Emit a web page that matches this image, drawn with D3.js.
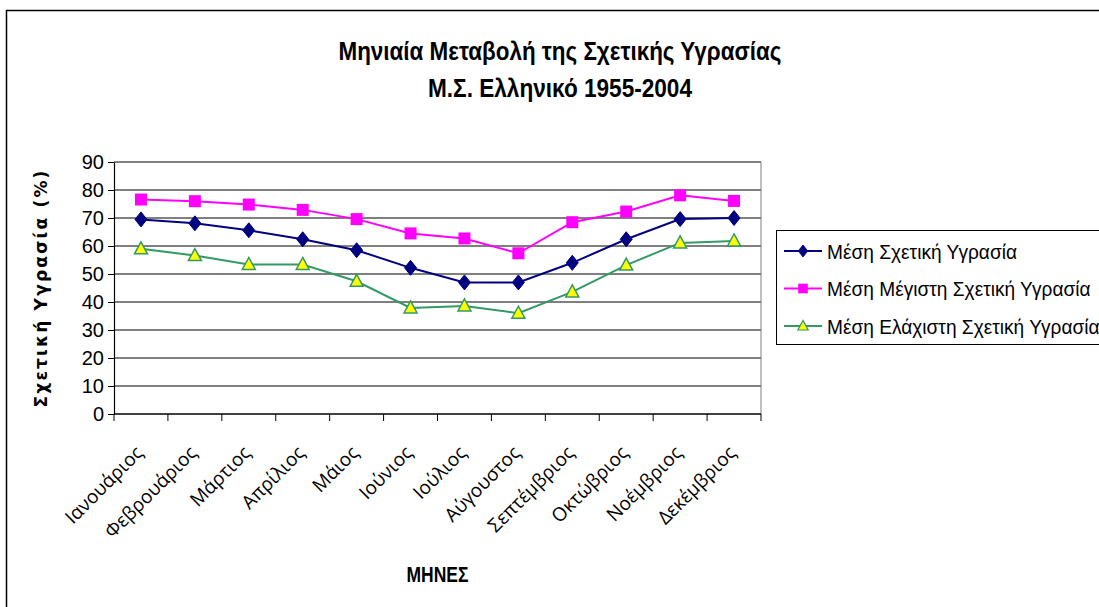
<!DOCTYPE html>
<html>
<head>
<meta charset="utf-8">
<script src="https://cdn.jsdelivr.net/npm/d3@7"></script>
<style>
  body { margin: 0; background: #fff; }
  svg { display: block; }
  text { font-family: "Liberation Sans", Arial, sans-serif; }
</style>
</head>
<body>
<div id="chart"></div>
<script>
var months = ["Ιανουάριος", "Φεβρουάριος", "Μάρτιος", "Απρίλιος", "Μάιος", "Ιούνιος",
    "Ιούλιος", "Αύγουστος", "Σεπτέμβριος", "Οκτώβριος", "Νοέμβριος", "Δεκέμβριος"];
var meanRH = [69.5, 68.1, 65.6, 62.4, 58.5, 52.2, 47.0, 47.0, 54.0, 62.4, 69.6, 70.0];
var maxRH  = [76.6, 76.0, 74.8, 72.9, 69.6, 64.5, 62.7, 57.4, 68.5, 72.3, 78.1, 76.1];
var minRH  = [59.0, 56.6, 53.4, 53.4, 47.4, 37.9, 38.6, 36.0, 43.6, 53.2, 61.1, 61.8];
var yTicks = [0, 10, 20, 30, 40, 50, 60, 70, 80, 90];
var seriesNames = ["Μέση Σχετική Υγρασία", "Μέση Μέγιστη Σχετική Υγρασία", "Μέση Ελάχιστη Σχετική Υγρασία"];

var width = 1099, height = 607;
var plot = {left: 114, right: 761, top: 162, bottom: 414};
var narrow = "'Liberation Sans Narrow', 'Liberation Sans', Arial, sans-serif";

var svg = d3.select("#chart").append("svg")
    .attr("width", width)
    .attr("height", height);

// outer chart frame (runs off the page at right and bottom)
svg.append("rect")
    .attr("x", 6.5).attr("y", 10.5)
    .attr("width", 1200).attr("height", 700)
    .attr("fill", "none").attr("stroke", "#000").attr("stroke-width", 1.5);

var x = d3.scaleBand().domain(months).range([plot.left, plot.right]);
var y = d3.scaleLinear().domain([0, 90]).range([plot.bottom, plot.top]);

// gridlines
svg.append("g")
    .selectAll("line")
    .data(yTicks.slice(1))
    .join("line")
    .attr("x1", plot.left).attr("x2", plot.right)
    .attr("y1", d => y(d)).attr("y2", d => y(d))
    .attr("stroke", "#000").attr("stroke-width", 1);

// right edge of plot area
svg.append("line")
    .attr("x1", plot.right).attr("x2", plot.right)
    .attr("y1", plot.top).attr("y2", plot.bottom)
    .attr("stroke", "#808080").attr("stroke-width", 1);

// y axis
var yAxis = svg.append("g")
    .attr("transform", "translate(" + plot.left + ",0)")
    .call(d3.axisLeft(y).tickValues(yTicks).tickSize(6).tickPadding(4).tickSizeOuter(0));
yAxis.select(".domain").attr("stroke", "#000").attr("stroke-width", 1.2);
yAxis.selectAll(".tick line").attr("stroke", "#000");
yAxis.selectAll("text")
    .attr("font-size", 20).attr("fill", "#000")
    .style("font-family", narrow);

// x axis: ticks at category boundaries
var xAxis = svg.append("g")
    .attr("transform", "translate(0," + plot.bottom + ")");
xAxis.append("line")
    .attr("x1", plot.left).attr("x2", plot.right)
    .attr("stroke", "#000").attr("stroke-width", 1.5);
xAxis.selectAll("line.tk")
    .data(months.concat([null]))
    .join("line")
    .attr("class", "tk")
    .attr("x1", (d, i) => plot.left + i * x.bandwidth())
    .attr("x2", (d, i) => plot.left + i * x.bandwidth())
    .attr("y1", 0).attr("y2", 7)
    .attr("stroke", "#000");
xAxis.selectAll("text")
    .data(months)
    .join("text")
    .attr("transform", d => "translate(" + (x(d) + x.bandwidth() / 2 + 3) + ",40) rotate(-45)")
    .attr("text-anchor", "end")
    .attr("font-size", 19)
    .style("font-family", "'Open Sans', 'Noto Sans', sans-serif")
    .text(d => d);

// lines and markers
var cx = d => x(d) + x.bandwidth() / 2;
var series = [
    {name: seriesNames[0], values: meanRH, color: "#000080", marker: "diamond"},
    {name: seriesNames[1], values: maxRH, color: "#FF00FF", marker: "square"},
    {name: seriesNames[2], values: minRH, color: "#339966", marker: "triangle"}
];

var line = d3.line().x((d, i) => cx(months[i])).y(d => y(d));

function drawMarker(g, type, color) {
    if (type === "diamond") {
        g.append("path").attr("d", "M0,-7.5L6,0L0,7.5L-6,0Z")
            .attr("fill", color).attr("stroke", color);
    } else if (type === "square") {
        g.append("rect").attr("x", -6).attr("y", -6).attr("width", 12).attr("height", 12)
            .attr("fill", color);
    } else {
        g.append("path").attr("d", "M0,-7L6.5,5L-6.5,5Z")
            .attr("fill", "#FFFF00").attr("stroke", color).attr("stroke-width", 1.5);
    }
}

series.slice().reverse().forEach(function(s) {
    svg.append("path")
        .datum(s.values)
        .attr("fill", "none")
        .attr("stroke", s.color)
        .attr("stroke-width", 2)
        .attr("d", line);
    s.values.forEach(function(v, i) {
        var g = svg.append("g").attr("transform", "translate(" + cx(months[i]) + "," + y(v) + ")");
        drawMarker(g, s.marker, s.color);
    });
});

// titles
var title = svg.append("text")
    .attr("text-anchor", "middle")
    .attr("font-size", 26).attr("font-weight", "bold")
    .style("font-family", narrow);
title.append("tspan").attr("x", 560).attr("y", 60)
    .attr("textLength", 443).attr("lengthAdjust", "spacingAndGlyphs")
    .text("Μηνιαία Μεταβολή της Σχετικής Υγρασίας");
title.append("tspan").attr("x", 560).attr("y", 97)
    .attr("textLength", 264).attr("lengthAdjust", "spacingAndGlyphs")
    .text("Μ.Σ. Ελληνικό 1955-2004");

svg.append("text")
    .attr("x", (plot.left + plot.right) / 2).attr("y", 582)
    .attr("text-anchor", "middle")
    .attr("font-size", 22).attr("font-weight", "bold")
    .attr("textLength", 62).attr("lengthAdjust", "spacingAndGlyphs")
    .style("font-family", narrow)
    .text("ΜΗΝΕΣ");

svg.append("text")
    .attr("transform", "translate(47," + ((plot.top + plot.bottom) / 2) + ") rotate(-90)")
    .attr("text-anchor", "middle")
    .attr("font-size", 17).attr("font-weight", "bold")
    .attr("letter-spacing", 2.2)
    .style("font-family", "'DejaVu Sans', sans-serif")
    .text("Σχετική Υγρασία (%)");

// legend
var legend = svg.append("g");
legend.append("rect")
    .attr("x", 776.5).attr("y", 230.5)
    .attr("width", 400).attr("height", 114)
    .attr("fill", "#fff").attr("stroke", "#000").attr("stroke-width", 1);
var legendTexts = [];
series.forEach(function(s, i) {
    var ly = 251 + i * 37.5;
    legend.append("line")
        .attr("x1", 784).attr("x2", 822).attr("y1", ly).attr("y2", ly)
        .attr("stroke", s.color).attr("stroke-width", 2);
    var g = legend.append("g").attr("transform", "translate(803," + ly + ") scale(0.8)");
    drawMarker(g, s.marker, s.color);
    legendTexts.push(legend.append("text")
        .attr("x", 827).attr("y", ly + 7.5)
        .attr("font-size", 21)
        .text(s.name));
});
// squeeze legend labels to the narrow face of the original
var squeeze = 190 / legendTexts[0].node().getComputedTextLength();
legendTexts.forEach(function(t) {
    t.attr("textLength", t.node().getComputedTextLength() * squeeze)
        .attr("lengthAdjust", "spacingAndGlyphs");
});
</script>
</body>
</html>
